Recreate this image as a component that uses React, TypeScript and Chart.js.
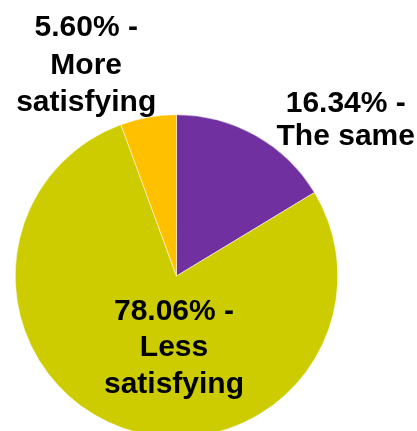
import React, { useEffect, useRef } from "react";
import { Chart, registerables } from "chart.js";

Chart.register(...registerables);

const categories = ["The same", "Less satisfying", "More satisfying"];
const values = [16.34, 78.06, 5.6];
const colors = ["#7030A0", "#CCCC00", "#FFC000"];
const labelLines = [
  ["16.34% -", "The same"],
  ["78.06% -", "Less", "satisfying"],
  ["5.60% -", "More", "satisfying"],
];
// label anchor: x centre, first baseline, relative to pie centre in units of radius
const labelAnchors = [
  { fx: 1.0495, fy: -1.0155, lh: 33 },
  { fx: -0.0155, fy: 0.2724, lh: 36.5 },
  { fx: -0.56, fy: -1.486, lh: 37.5 },
];

const W = 417;
const H = 600;
const CX = 176.5;
const CY = 276;
const R = 161.5;

const labelPlugin = {
  id: "sliceLabels",
  afterDraw(chart: any) {
    const ctx = chart.ctx;
    const meta = chart.getDatasetMeta(0);
    const arc = meta.data[0];
    const cx = arc.x;
    const cy = arc.y;
    const r = arc.outerRadius;
    ctx.save();
    ctx.fillStyle = "#000";
    ctx.font = "bold 30px 'Liberation Sans', Arial, sans-serif";
    ctx.textAlign = "center";
    ctx.textBaseline = "alphabetic";
    labelLines.forEach((lines, i) => {
      const a = labelAnchors[i];
      const x = cx + a.fx * r;
      const y0 = cy + a.fy * r;
      lines.forEach((t, j) => ctx.fillText(t, x, y0 + j * a.lh));
    });
    ctx.restore();
  },
};

export default function App() {
  const ref = useRef<HTMLCanvasElement | null>(null);
  useEffect(() => {
    if (!ref.current) return;
    const chart = new Chart(ref.current, {
      type: "pie",
      data: {
        labels: categories,
        datasets: [
          {
            data: values,
            backgroundColor: colors,
            borderColor: "#ffffff",
            borderWidth: 0.5,
          },
        ],
      },
      options: {
        responsive: false,
        animation: false,
        devicePixelRatio: 1,
        layout: {
          padding: {
            left: CX - R,
            right: W - (CX + R),
            top: CY - R,
            bottom: H - (CY + R),
          },
        },
        plugins: {
          legend: { display: false },
          tooltip: { enabled: false },
          title: { display: false },
        },
      },
      plugins: [labelPlugin],
    });
    return () => chart.destroy();
  }, []);
  return (
    <div
      style={{
        position: "fixed",
        left: 0,
        top: 0,
        width: W,
        height: 431,
        overflow: "hidden",
        background: "#fff",
      }}
    >
      <canvas
        ref={ref}
        width={W}
        height={H}
        style={{ position: "absolute", left: 0, top: 0, width: W, height: H }}
      />
    </div>
  );
}
